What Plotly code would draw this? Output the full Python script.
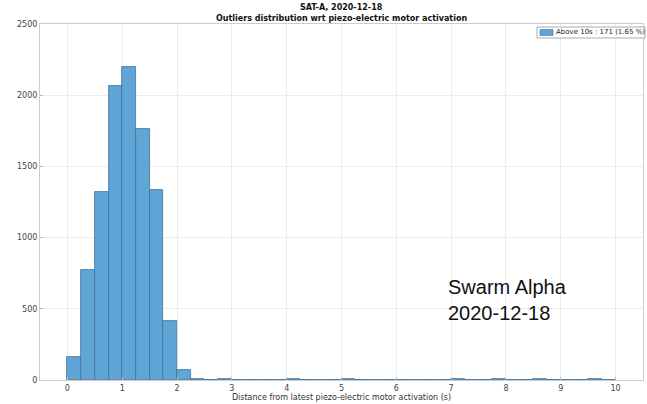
import plotly.graph_objects as go

bin_left = [0.0, 0.25, 0.5, 0.75, 1.0, 1.25, 1.5, 1.75, 2.0, 2.25, 2.5, 2.75, 3.0, 3.25, 3.5,
            3.75, 4.0, 4.25, 4.5, 4.75, 5.0, 5.25, 5.5, 5.75, 6.0, 6.25, 6.5, 6.75, 7.0,
            7.25, 7.5, 7.75, 8.0, 8.25, 8.5, 8.75, 9.0, 9.25, 9.5, 9.75]
counts = [160, 775, 1320, 2065, 2195, 1760, 1335, 415, 68, 4, 3, 4, 3, 2, 3,
          2, 9, 3, 2, 3, 8, 3, 1, 3, 2, 3, 2, 3, 7,
          3, 2, 4, 3, 3, 7, 3, 2, 3, 8, 2]
bin_width = 0.25
legend_name = "Above 10s : 171 (1.65 %)"
x_ticks = [0, 1, 2, 3, 4, 5, 6, 7, 8, 9, 10]
y_ticks = [0, 500, 1000, 1500, 2000, 2500]

centers = [b + bin_width / 2 for b in bin_left]
BAR_COLOR = "#5fa5d6"
EDGE_COLOR = "#41729a"

fig = go.Figure()
fig.add_trace(go.Bar(
    x=centers, y=counts, width=bin_width, name=legend_name,
    marker=dict(color=BAR_COLOR, line=dict(color=EDGE_COLOR, width=0.8)),
    showlegend=False,
))

L, R, T, B = 40, 4, 24, 24
PW, PH = 647 - L - R, 404 - T - B

def px(x):
    return (x - L) / PW

def py(y):
    return (404 - B - y) / PH

fig.update_layout(
    width=647, height=404,
    margin=dict(l=L, r=R, t=T, b=B),
    plot_bgcolor="white", paper_bgcolor="white",
    font=dict(family="DejaVu Sans", size=8, color="#444"),
    showlegend=False,
    bargap=0,
)
fig.update_xaxes(
    range=[-0.5, 10.5], tickvals=x_ticks, ticks="inside", ticklen=3,
    tickcolor="#bbb", showgrid=True, gridcolor="#ececec",
    showline=True, linecolor="#ccc", mirror=True, zeroline=False,
    title=dict(text="Distance from latest piezo-electric motor activation (s)", standoff=2,
               font=dict(size=8, color="#333")),
    tickfont=dict(size=8, color="#444"),
)
fig.update_yaxes(
    range=[0, 2500], tickvals=y_ticks, ticks="inside", ticklen=3,
    tickcolor="#bbb", showgrid=True, gridcolor="#ececec",
    showline=True, linecolor="#ccc", mirror=True, zeroline=False,
    tickfont=dict(size=8, color="#444"),
)

# title (two bold lines)
fig.add_annotation(text="<b>SAT-A, 2020-12-18</b>", xref="paper", yref="paper",
                   x=0.5, y=py(8), xanchor="center", yanchor="middle", showarrow=False,
                   font=dict(family="DejaVu Sans", size=8, color="#111"))
fig.add_annotation(text="<b>Outliers distribution wrt piezo-electric motor activation</b>",
                   xref="paper", yref="paper",
                   x=0.5, y=py(18), xanchor="center", yanchor="middle", showarrow=False,
                   font=dict(family="DejaVu Sans", size=8, color="#111"))

# legend box
fig.add_shape(type="rect", xref="paper", yref="paper",
              x0=px(537), x1=px(645), y0=py(38), y1=py(27),
              line=dict(color="#aaa", width=1), fillcolor="white")
fig.add_shape(type="rect", xref="paper", yref="paper",
              x0=px(540), x1=px(553), y0=py(35.5), y1=py(29.5),
              line=dict(color=EDGE_COLOR, width=0.6), fillcolor=BAR_COLOR)
fig.add_annotation(text=legend_name, xref="paper", yref="paper",
                   x=px(554), y=py(32.5), xanchor="left", yanchor="middle", showarrow=False,
                   font=dict(family="DejaVu Sans", size=7, color="#222"))

fig.add_annotation(
    text="Swarm Alpha<br>2020-12-18", xref="paper", yref="paper",
    x=px(446), y=py(274), xanchor="left", yanchor="top",
    showarrow=False, align="left",
    font=dict(family="Liberation Sans", size=20, color="#111"),
)

fig.write_html("out.html")
